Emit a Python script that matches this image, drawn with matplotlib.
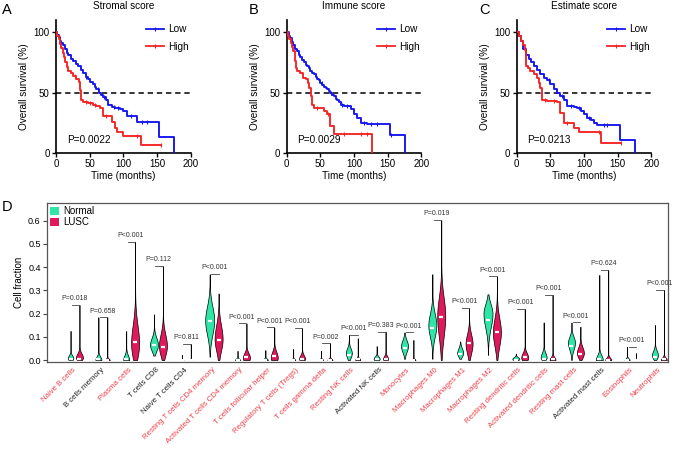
import numpy as np
import matplotlib
matplotlib.use('Agg')
import matplotlib.pyplot as plt
from matplotlib.patches import Patch
from matplotlib.lines import Line2D

plt.rcParams['font.family'] = ['Liberation Sans', 'DejaVu Sans']

# ---- survival curves (time in months, survival in %) ----
a_low_t = [0, 2, 4, 6, 8, 10, 13, 16, 18, 22, 26, 30, 33, 37, 40, 44, 47, 51, 55, 58, 60, 64, 67, 70, 75, 78, 83, 88, 95, 100, 105, 120, 153, 176]
a_low_s = [100, 98, 96, 93, 91, 89, 86, 83, 81, 78, 76, 74, 72, 69, 66, 63, 61, 59, 57, 55, 53, 50, 48, 46, 44, 40, 38, 37, 36, 35, 31, 26, 13, 0]
a_high_t = [0, 2, 4, 6, 8, 10, 12, 14, 16, 18, 22, 25, 30, 34, 36, 37, 40, 48, 55, 60, 65, 70, 83, 88, 91, 100, 127, 156]
a_high_s = [100, 97, 94, 90, 87, 83, 79, 75, 71, 68, 66, 64, 61, 59, 52, 44, 42, 41, 40, 39, 37, 31, 26, 21, 17, 14, 7, 7]
a_low_cens = [45, 62, 72, 86, 92, 112, 128, 135]
a_high_cens = [28, 44, 50, 58, 75, 120, 156]

b_low_t = [0, 3, 5, 8, 10, 13, 15, 18, 20, 23, 25, 28, 30, 33, 35, 38, 40, 43, 45, 48, 50, 53, 55, 58, 60, 63, 65, 68, 70, 73, 75, 78, 80, 85, 95, 100, 105, 110, 120, 153, 176]
b_low_s = [100, 97, 95, 92, 89, 86, 84, 81, 79, 77, 75, 73, 72, 70, 68, 66, 65, 63, 61, 60, 58, 56, 55, 54, 53, 51, 50, 48, 47, 45, 44, 42, 40, 39, 36, 32, 29, 25, 24, 15, 0]
b_high_t = [0, 2, 4, 6, 8, 10, 12, 14, 16, 20, 24, 28, 31, 33, 36, 38, 40, 55, 60, 65, 70, 127]
b_high_s = [100, 97, 94, 91, 88, 84, 76, 70, 68, 66, 62, 61, 58, 54, 47, 40, 37, 35, 32, 22, 16, 0]
b_low_cens = [52, 66, 82, 90, 115, 125, 135, 155]
b_high_cens = [45, 62, 85, 110, 120]

c_low_t = [0, 3, 6, 10, 14, 18, 22, 26, 30, 35, 40, 45, 50, 55, 60, 65, 70, 75, 85, 90, 95, 100, 105, 110, 115, 120, 153, 176]
c_low_s = [100, 97, 93, 86, 81, 78, 75, 72, 69, 65, 62, 60, 57, 53, 50, 47, 44, 39, 38, 37, 35, 32, 29, 27, 25, 23, 11, 0]
c_high_t = [0, 3, 6, 9, 12, 14, 17, 20, 25, 30, 33, 35, 38, 45, 52, 60, 65, 70, 85, 93, 125, 155]
c_high_s = [100, 97, 93, 89, 85, 72, 70, 68, 65, 62, 58, 54, 44, 43, 43, 42, 33, 25, 21, 17, 8.5, 8.5]
c_low_cens = [48, 68, 80, 92, 108, 130, 135]
c_high_cens = [42, 56, 75, 122, 155]

titles = ['Stromal score', 'Immune score', 'Estimate score']
pvals_km = ['P=0.0022', 'P=0.0029', 'P=0.0213']

# ---- CIBERSORT cell fractions ----
cells = ['Naive B cells', 'B cells memory', 'Plasma cells', 'T cells CD8', 'Naive T cells CD4',
         'Resting T cells CD4 memory', 'Activated T cells CD4 memory', 'T cells follicular helper',
         'Regulatory T cells (Tregs)', 'T cells gamma delta', 'Resting NK cells', 'Activated NK cells',
         'Monocytes', 'Macrophages M0', 'Macrophages M1', 'Macrophages M2', 'Resting dendritic cells',
         'Activated dendritic cells', 'Resting mast cells', 'Activated mast cells', 'Eosinophils', 'Neutrophils']
pvals = ['P=0.018', 'P=0.658', 'P<0.001', 'P=0.112', 'P=0.811', 'P<0.001', 'P<0.001', 'P<0.001',
         'P<0.001', 'P=0.002', 'P<0.001', 'P=0.383', 'P<0.001', 'P=0.019', 'P<0.001', 'P<0.001',
         'P<0.001', 'P<0.001', 'P<0.001', 'P=0.624', 'P<0.001', 'P<0.001']

# Normal: min, max, median, mode (widest point), spread below / above mode, relative width
norm_min = [0, 0, 0, 0.019, 0, 0.014, 0, 0, 0, 0, 0, 0, 0.005, 0.005, 0.005, 0.022, 0, 0, 0, 0, 0, 0]
norm_max = [0.125, 0.184, 0.125, 0.197, 0.022, 0.37, 0.04, 0.043, 0.047, 0.039, 0.108, 0.06, 0.119, 0.37, 0.08, 0.283, 0.028, 0.162, 0.162, 0.366, 0.057, 0.151]
norm_med = [0.004, 0.003, 0.003, 0.065, 0.0, 0.168, 0.001, 0.002, 0.001, 0.001, 0.022, 0.003, 0.05, 0.139, 0.025, 0.172, 0.001, 0.004, 0.06, 0.003, 0.001, 0.014]
norm_mode = [0.008, 0, 0, 0.065, 0, 0.17, 0, 0, 0, 0, 0.03, 0.005, 0.06, 0.15, 0.03, 0.2, 0.005, 0.01, 0.075, 0, 0, 0.02]
norm_slo = [0.01, 0.01, 0.01, 0.025, 0.003, 0.06, 0.005, 0.005, 0.004, 0.004, 0.02, 0.008, 0.025, 0.05, 0.015, 0.06, 0.006, 0.01, 0.03, 0.01, 0.005, 0.015]
norm_shi = [0.012, 0.015, 0.02, 0.03, 0.003, 0.06, 0.006, 0.006, 0.005, 0.005, 0.02, 0.01, 0.025, 0.05, 0.02, 0.04, 0.007, 0.02, 0.025, 0.02, 0.007, 0.02]
norm_w = [5.5, 6, 6, 8, 3, 9, 5, 5, 4, 4, 6, 6, 7, 8, 6, 9, 7, 6, 7, 7, 5, 6]

lusc_min = [0] * 22
lusc_max = [0.237, 0.184, 0.51, 0.405, 0.068, 0.287, 0.158, 0.141, 0.137, 0.072, 0.093, 0.122, 0.086, 0.603, 0.223, 0.36, 0.22, 0.28, 0.144, 0.388, 0.029, 0.302]
lusc_med = [0.006, 0.0, 0.078, 0.057, 0.0, 0.085, 0.015, 0.019, 0.004, 0.001, 0.003, 0.005, 0.0, 0.187, 0.072, 0.119, 0.014, 0.003, 0.024, 0.002, 0.0, 0.003]
lusc_mode = [0.01, 0, 0.07, 0.06, 0, 0.09, 0.01, 0.01, 0.005, 0, 0, 0.005, 0, 0.19, 0.07, 0.12, 0.01, 0, 0.03, 0, 0, 0]
lusc_slo = [0.012, 0.004, 0.06, 0.04, 0.003, 0.05, 0.02, 0.02, 0.01, 0.005, 0.006, 0.01, 0.004, 0.09, 0.04, 0.06, 0.015, 0.008, 0.02, 0.008, 0.002, 0.008]
lusc_shi = [0.018, 0.006, 0.08, 0.05, 0.004, 0.06, 0.02, 0.025, 0.015, 0.006, 0.008, 0.012, 0.005, 0.08, 0.04, 0.06, 0.02, 0.012, 0.025, 0.01, 0.003, 0.01]
lusc_w = [7, 5, 8, 8, 3, 8, 7, 7, 6, 5, 5, 5, 4, 8, 7, 8, 7, 6, 7, 6, 2, 6]

BLUE = '#1414f0'
RED = '#f52323'
GREEN = '#2ee6a6'
PINK = '#e0195c'
SIGRED = '#f0404a'


def km_curve(ax, t, s, cens, color):
    t = np.array(t)
    s = np.array(s)
    ax.step(t, s, where='post', color=color, lw=1.35, zorder=3)
    idx = np.searchsorted(t, cens, side='right') - 1
    ax.plot(cens, s[idx], ls='none', marker='|', ms=3.5, mew=0.8, color=color, zorder=3)


fig = plt.figure(figsize=(6.8, 4.51), dpi=100)

km_data = [(a_low_t, a_low_s, a_low_cens, a_high_t, a_high_s, a_high_cens),
           (b_low_t, b_low_s, b_low_cens, b_high_t, b_high_s, b_high_cens),
           (c_low_t, c_low_s, c_low_cens, c_high_t, c_high_s, c_high_cens)]
lefts = [56, 286.7, 516.7]
letters = ['A', 'B', 'C']
letter_x = [2, 249, 479]

for i in range(3):
    ax = fig.add_axes([lefts[i] / 680, 1 - 153 / 451, 134.5 / 680, 133 / 451])
    lt, ls_, lc, ht, hs, hc = km_data[i]
    km_curve(ax, lt, ls_, lc, BLUE)
    km_curve(ax, ht, hs, hc, RED)
    ax.plot([0, 200], [50, 50], color='black', lw=1.1, ls=(0, (3.5, 2.5)), zorder=2)
    ax.set_xlim(0, 200)
    ax.set_ylim(0, 110)
    ax.set_xticks([0, 50, 100, 150, 200])
    ax.set_yticks([0, 50, 100])
    for sp in ['top', 'right']:
        ax.spines[sp].set_visible(False)
    for sp in ['left', 'bottom']:
        ax.spines[sp].set_linewidth(1.2)
    ax.tick_params(labelsize=7, length=3, width=1, pad=1.5)
    ax.set_xlabel('Time (months)', fontsize=7.2, labelpad=1.5)
    ax.set_ylabel('Overall survival (%)', fontsize=7.2, labelpad=3)
    ax.text(0.5, 1 + 14 / 133, titles[i], transform=ax.transAxes, ha='center', va='center', fontsize=7.2)
    ax.text(16, 11, pvals_km[i], fontsize=7.2, va='center')
    handles = [Line2D([], [], color=BLUE, lw=1.3, marker='|', ms=3.5, mew=0.8, label='Low'),
               Line2D([], [], color=RED, lw=1.3, marker='|', ms=3.5, mew=0.8, label='High')]
    ax.legend(handles=handles, loc='upper left', bbox_to_anchor=(0.62, 1.02), frameon=False,
              fontsize=7.2, handlelength=1.8, handletextpad=0.4, labelspacing=0.75, borderpad=0.2)
    fig.text(letter_x[i] / 680, 1 - 10 / 451, letters[i], fontsize=10.5, va='center', ha='left')

# ---- panel D ----
axd = fig.add_axes([47 / 680, 1 - 362 / 451, 621 / 680, 159 / 451])
unit = 27.83
pos = np.arange(len(cells))
off = 0.16


def violin_stats(lo, hi, med, mode, slo, shi):
    y = np.linspace(lo, hi, 300)
    v = np.where(y < mode, np.exp(-0.5 * ((y - mode) / slo) ** 2), np.exp(-0.5 * ((y - mode) / shi) ** 2))
    return dict(coords=y, vals=v, mean=med, median=med, min=lo, max=hi)


groups = [(-off, GREEN, norm_min, norm_max, norm_med, norm_mode, norm_slo, norm_shi, norm_w),
          (off, PINK, lusc_min, lusc_max, lusc_med, lusc_mode, lusc_slo, lusc_shi, lusc_w)]
for dx, col, lo, hi, med, mode, slo, shi, w in groups:
    stats = [violin_stats(lo[k], hi[k], med[k], mode[k], slo[k], shi[k]) for k in range(len(cells))]
    parts = axd.violin(stats, positions=pos + dx, widths=np.array(w) / unit,
                       showmeans=False, showextrema=False, showmedians=False)
    for b in parts['bodies']:
        b.set_facecolor(col)
        b.set_edgecolor('black')
        b.set_linewidth(0.5)
        b.set_alpha(1)
    axd.plot(pos + dx, med, ls='none', marker='_', ms=3.5, mew=1.6, color='white', zorder=4)

for k in range(len(cells)):
    top = max(norm_max[k], lusc_max[k])
    axd.plot([k - off + 0.05, k + off], [top, top], color='#444444', lw=0.6)
    axd.text(k, top + 0.012, pvals[k], ha='center', va='bottom', fontsize=5, color='#333333')

axd.set_xlim((47 - 75) / unit, (668 - 75) / unit)
axd.set_ylim(-2 / 232, 157 / 232)
axd.set_yticks(np.arange(0, 0.61, 0.1))
axd.set_yticklabels(['0.0', '0.1', '0.2', '0.3', '0.4', '0.5', '0.6'])
axd.tick_params(axis='y', labelsize=6.5, length=3, width=0.8, pad=1.5, color='#444444')
axd.set_xticks(pos)
axd.set_xticklabels(cells, rotation=45, ha='right', va='center', rotation_mode='anchor', fontsize=5.6)
axd.tick_params(axis='x', length=0, pad=5)
for k, lab in enumerate(axd.get_xticklabels()):
    sig = '<' in pvals[k] or float(pvals[k][2:]) < 0.05
    lab.set_color(SIGRED if sig else '#222222')
for sp in axd.spines.values():
    sp.set_linewidth(0.9)
    sp.set_color('#555555')
axd.set_ylabel('Cell fraction', fontsize=7, labelpad=3)
axd.legend(handles=[Patch(facecolor=GREEN, label='Normal'), Patch(facecolor=PINK, label='LUSC')],
           loc='upper left', frameon=False, fontsize=7, handlelength=0.9, handleheight=0.8,
           handletextpad=0.4, labelspacing=0.1, borderpad=0.25, borderaxespad=0.1)
fig.text(2 / 680, 1 - 207 / 451, 'D', fontsize=10.5, va='center', ha='left')

fig.savefig('out.png', dpi=100)
